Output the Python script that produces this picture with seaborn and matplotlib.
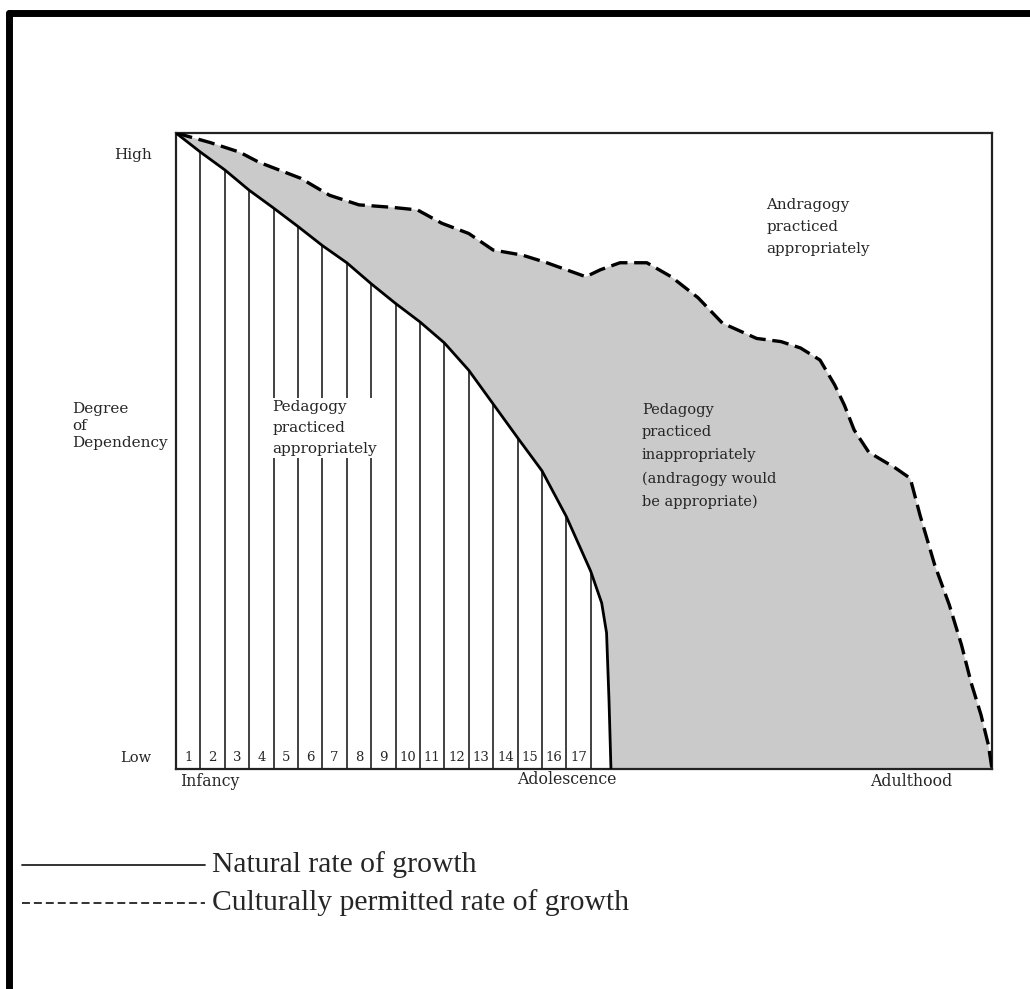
import numpy as np
import matplotlib
matplotlib.use("Agg")
import matplotlib.pyplot as plt
from matplotlib.lines import Line2D
import seaborn as sns

# stage cells along the x axis (1..17), y is degree of dependency (1 = high, 0 = low)
stages = list(range(1, 18))

natural_x = [0, 1, 2, 3, 4, 5, 6, 7, 8, 9, 10, 11, 12, 13, 14, 15, 16, 17,
             17.45, 17.65, 17.75, 17.83]
natural_y = [1.0, 0.970, 0.942, 0.910, 0.882, 0.853, 0.823, 0.796, 0.763, 0.732,
             0.703, 0.670, 0.627, 0.574, 0.521, 0.469, 0.397, 0.311,
             0.261, 0.214, 0.108, 0.0]

cultural_x = [0, 1.4, 2.6, 3.4, 5.1, 6.3, 7.5, 8.9, 9.9, 10.9, 12.0, 13.0, 14.2,
              15.2, 16.8, 17.4, 18.2, 19.3, 20.3, 21.4, 22.4, 23.8, 24.8, 25.6,
              26.4, 27.0, 27.4, 27.8, 28.4, 29.5, 30.1, 30.5, 31.1, 31.7, 32.2,
              32.6, 33.0, 33.3, 33.45]
cultural_y = [1.0, 0.985, 0.970, 0.954, 0.929, 0.902, 0.887, 0.883, 0.879, 0.858,
              0.842, 0.816, 0.808, 0.796, 0.774, 0.785, 0.796, 0.796, 0.774,
              0.741, 0.701, 0.677, 0.672, 0.662, 0.643, 0.604, 0.572, 0.533,
              0.498, 0.473, 0.457, 0.399, 0.321, 0.258, 0.195, 0.135, 0.085,
              0.038, 0.0]

phase_labels = ["Infancy", "Adolescence", "Adulthood"]
legend_labels = ["Natural rate of growth", "Culturally permitted rate of growth"]

sns.set_style("white")
plt.rcParams["font.family"] = ["DejaVu Serif"]

fig = plt.figure(figsize=(10.30, 9.89), dpi=100)
ax = fig.add_axes([176 / 1030, 1 - 769 / 989, 816 / 1030, 636 / 989])

XMAX = 33.45
ax.set_xlim(0, XMAX)
ax.set_ylim(0, 1)

# grey area between natural and culturally permitted growth
poly_x = cultural_x + natural_x[::-1]
poly_y = cultural_y + natural_y[::-1]
ax.fill(poly_x, poly_y, color="#cacaca", lw=0, zorder=1)

# vertical strips under the natural curve
ax.vlines(stages, 0, natural_y[1:18], color="#333333", lw=1.3, zorder=2)

sns.lineplot(x=natural_x, y=natural_y, ax=ax, color="black", lw=2.0,
             sort=False, estimator=None, zorder=3)
sns.lineplot(x=cultural_x, y=cultural_y, ax=ax, color="black", lw=2.4,
             sort=False, estimator=None, linestyle=(0, (5, 2)), zorder=3)

for s in stages:
    ax.text(s - 0.5, 0.018, str(s), ha="center", va="center", fontsize=9.5)

for sp in ax.spines.values():
    sp.set_color("#222222")
    sp.set_linewidth(1.6)
ax.set_xticks([])
ax.set_yticks([])

ax.text(-0.03, 0.965, "High", transform=ax.transAxes, ha="right", va="center", fontsize=11)
ax.text(-0.03, 0.018, "Low", transform=ax.transAxes, ha="right", va="center", fontsize=10.5)
ax.text(-0.127, 0.539, "Degree\nof\nDependency", transform=ax.transAxes,
        ha="left", va="center", fontsize=11, linespacing=1.3)

ax.text(24.2, 0.898, "Andragogy\npracticed\nappropriately", ha="left", va="top",
        fontsize=10.8, linespacing=1.72, zorder=4)
ax.text(3.95, 0.580, "Pedagogy\npracticed\nappropriately", ha="left", va="top",
        fontsize=11, linespacing=1.62, zorder=4,
        bbox=dict(facecolor="white", edgecolor="none", pad=1.5))
ax.text(19.1, 0.576, "Pedagogy\npracticed\ninappropriately\n(andragogy would\nbe appropriate)",
        ha="left", va="top", fontsize=10.5, linespacing=1.8, zorder=4)

# phase labels under the axis
fig.text(180 / 1030, 1 - 781 / 989, phase_labels[0], ha="left", va="center", fontsize=11.3)
fig.text(517 / 1030, 1 - 779 / 989, phase_labels[1], ha="left", va="center", fontsize=11.3)
fig.text(870 / 1030, 1 - 782 / 989, phase_labels[2], ha="left", va="center", fontsize=11.3)

# hand-drawn style key
ly = [1 - 865 / 989, 1 - 903 / 989]
fig.add_artist(Line2D([22 / 1030, 205 / 1030], [ly[0], ly[0]], color="#222222", lw=1.3))
fig.add_artist(Line2D([22 / 1030, 205 / 1030], [ly[1], ly[1]], color="#222222", lw=1.3,
                      linestyle=(0, (4.4, 2.2))))
for y, lab in zip(ly, legend_labels):
    fig.text(212 / 1030, y, lab, ha="left", va="center", fontsize=21.3,
             family="Liberation Serif")

# outer frame (top and left edge only)
fig.add_artist(Line2D([8.5 / 1030, 1.0], [1 - 13 / 989, 1 - 13 / 989], color="black", lw=5))
fig.add_artist(Line2D([8.5 / 1030, 8.5 / 1030], [0, 1 - 13 / 989], color="black", lw=5))

fig.savefig("out.png", dpi=100)
